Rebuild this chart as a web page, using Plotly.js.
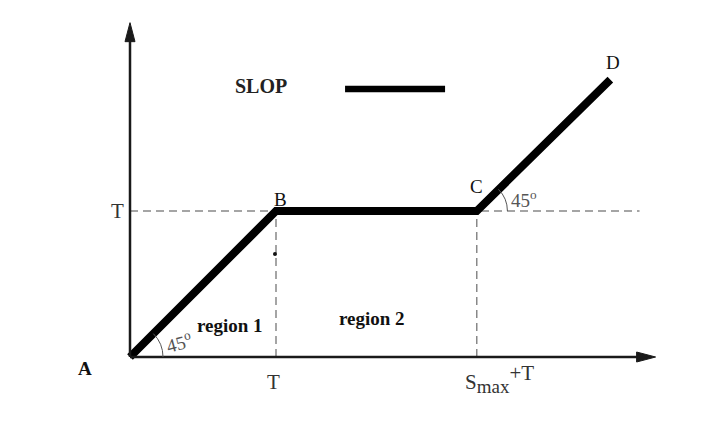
<!DOCTYPE html>
<html>
<head>
<meta charset="utf-8">
<script src="https://cdn.plot.ly/plotly-3.0.1.min.js"></script>
<style>html,body{margin:0;padding:0;background:#fff;}#chart{width:716px;height:430px;}</style>
</head>
<body>
<div id="chart"></div>
<script>
// ---- data ----
const pathX = [0, 1, 2.375, 3.29];      // A, B, C, D
const pathY = [0, 1, 1, 1.9];
const pointLabels = ['A', 'B', 'C', 'D'];
const T = 1;
const SmaxPlusT = 2.375;
const xTickLabels = ['T', 'S<sub>max</sub>+T'];
const yTickLabels = ['T'];
const regionLabels = ['region 1', 'region 2'];
const angleLabel = '45<sup>o</sup>';
const legendLabel = 'SLOP';
const dotX = [0.993];
const dotY = [0.705];
const xAxisEnd = 3.6;
const yAxisEnd = 2.29;
const guideEnd = 3.49;

const serif = 'Liberation Serif, Times New Roman, serif';
const px = 1 / 146;   // one pixel in data units

const traces = [
  {x: pathX, y: pathY, mode: 'lines', line: {color: '#000', width: 8}, cliponaxis: false, hoverinfo: 'skip', showlegend: false},
  {x: dotX, y: dotY, mode: 'markers', marker: {color: '#111', size: 4}, cliponaxis: false, hoverinfo: 'skip', showlegend: false}
];

function txt(x, y, text, size, color, extra) {
  return Object.assign({x: x, y: y, xref: 'x', yref: 'y', text: text, showarrow: false,
    font: {family: serif, size: size, color: color}}, extra || {});
}

const sLabel = xTickLabels[1]
  .replace('<sub>max</sub>', '<sub><span style="font-size:19px">max</span></sub>')
  .replace('+T', '<sup><span style="font-size:21px">+T</span></sup>');

const annotations = [
  // point labels
  txt(-0.308, -0.08, '<b>' + pointLabels[0] + '</b>', 19, '#111'),
  txt(1.03, 1.08, pointLabels[1], 19, '#111'),
  txt(2.37, 1.17, pointLabels[2], 19, '#111'),
  txt(3.31, 2.02, pointLabels[3], 19, '#111'),
  // tick labels
  txt(-0.089, T, yTickLabels[0], 21, '#333'),
  txt(T - 0.014, -0.171, xTickLabels[0], 21, '#333'),
  txt(2.53, -0.15, sLabel, 21, '#333'),
  // regions
  txt(0.685, 0.219, '<b>' + regionLabels[0] + '</b>', 19, '#111'),
  txt(1.658, 0.267, '<b>' + regionLabels[1] + '</b>', 19, '#111'),
  // angles
  txt(0.335, 0.105, angleLabel, 19, '#555', {textangle: -15}),
  txt(2.70, 1.085, angleLabel, 19, '#555'),
  // legend text
  txt(0.897, 1.856, '<b>' + legendLabel + '</b>', 20, '#222')
];

const axisColor = '#1a1a1a';
const shapes = [
  // dashed guides
  {type: 'line', xref: 'x', yref: 'y', x0: 0, y0: T, x1: guideEnd, y1: T, line: {color: '#888', width: 1.5, dash: '8px,5px'}, layer: 'below'},
  {type: 'line', xref: 'x', yref: 'y', x0: T, y0: 0, x1: T, y1: T, line: {color: '#888', width: 1.5, dash: '8px,5px'}, layer: 'below'},
  {type: 'line', xref: 'x', yref: 'y', x0: SmaxPlusT, y0: 0, x1: SmaxPlusT, y1: T, line: {color: '#888', width: 1.5, dash: '8px,5px'}, layer: 'below'},
  // axes
  {type: 'line', xref: 'x', yref: 'y', x0: 0, y0: 0, x1: xAxisEnd - 14 * px, y1: 0, line: {color: axisColor, width: 2.5}},
  {type: 'line', xref: 'x', yref: 'y', x0: 0, y0: 0, x1: 0, y1: yAxisEnd - 14 * px, line: {color: axisColor, width: 2.5}},
  // arrow heads
  {type: 'path', xref: 'x', yref: 'y', fillcolor: axisColor, line: {color: axisColor, width: 1},
   path: 'M ' + xAxisEnd + ',0 L ' + (xAxisEnd - 19 * px) + ',' + (5 * px) + ' L ' + (xAxisEnd - 19 * px) + ',' + (-5 * px) + ' Z'},
  {type: 'path', xref: 'x', yref: 'y', fillcolor: axisColor, line: {color: axisColor, width: 1},
   path: 'M 0,' + yAxisEnd + ' L ' + (5 * px) + ',' + (yAxisEnd - 19 * px) + ' L ' + (-5 * px) + ',' + (yAxisEnd - 19 * px) + ' Z'},
  // angle arcs
  {type: 'path', xref: 'x', yref: 'y', path: 'M 0.226,0 Q 0.226,0.0936 0.160,0.160', line: {color: '#555', width: 1}},
  {type: 'path', xref: 'x', yref: 'y', path: 'M ' + (SmaxPlusT + 0.21) + ',1 Q ' + (SmaxPlusT + 0.21) + ',1.087 ' + (SmaxPlusT + 0.1485) + ',1.1485', line: {color: '#555', width: 1}},
  // legend line
  {type: 'line', xref: 'x', yref: 'y', x0: 1.473, y0: 1.836, x1: 2.158, y1: 1.836, line: {color: '#000', width: 6.5}}
];

const layout = {
  width: 716, height: 430,
  margin: {l: 0, r: 0, t: 0, b: 0},
  paper_bgcolor: '#fff', plot_bgcolor: '#fff',
  showlegend: false,
  xaxis: {range: [-130 / 146, 586 / 146], visible: false, fixedrange: true},
  yaxis: {range: [-73 / 146, 357 / 146], visible: false, fixedrange: true},
  annotations: annotations,
  shapes: shapes
};

Plotly.newPlot('chart', traces, layout, {displayModeBar: false, staticPlot: true});
</script>
</body>
</html>
